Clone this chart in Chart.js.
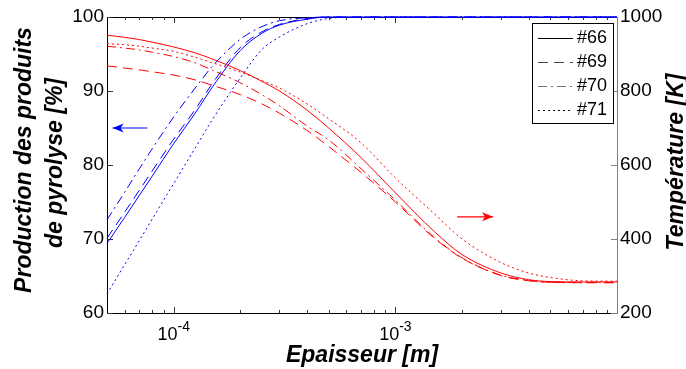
<!DOCTYPE html>
<html><head><meta charset="utf-8">
<script src="https://cdn.jsdelivr.net/npm/chart.js@4.4.0/dist/chart.umd.min.js"></script>
<style>html,body{margin:0;padding:0;background:#fff;overflow:hidden}#wrap{width:686px;height:369px;position:relative}</style>
</head><body><div id="wrap"><canvas id="c" width="686" height="369"></canvas></div>
<script>
// ---- data ----
const thickness = [5e-5, 6e-5, 7e-5, 8e-5, 1e-4, 1.25e-4, 1.5e-4, 2e-4, 2.5e-4, 3e-4, 4e-4, 5e-4, 7e-4, 1e-3, 1.5e-3, 2e-3, 3e-3, 4e-3, 5e-3, 7e-3, 1e-2];
// production of pyrolysis products [%] (left axis, blue)
const prod66 = [69.4, 72.9, 75.9, 78.5, 82.9, 87.0, 90.6, 95.5, 97.8, 98.9, 99.7, 100, 100, 100, 100, 100, 100, 100, 100, 100, 100];
const prod69 = [70.1, 73.6, 76.6, 79.2, 83.5, 87.5, 91.1, 95.9, 98.0, 99.0, 99.8, 100, 100, 100, 100, 100, 100, 100, 100, 100, 100];
const prod70 = [72.6, 76.3, 79.5, 82.2, 86.5, 90.4, 93.4, 97.0, 98.7, 99.5, 99.9, 100, 100, 100, 100, 100, 100, 100, 100, 100, 100];
const prod71 = [62.6, 66.5, 69.8, 72.7, 77.5, 82.3, 86.2, 91.8, 95.6, 97.3, 99.1, 99.8, 100, 100, 100, 100, 100, 100, 100, 100, 100];
// temperature [K] (right axis, red)
const temp66 = [951, 945, 939, 932, 919, 903, 886, 855, 826, 800, 748, 700, 620, 525, 420, 358, 308, 290, 285, 284, 284];
const temp69 = [868, 862, 857, 852, 843, 830, 815, 790, 765, 740, 693, 650, 580, 500, 402, 348, 301, 287, 283, 282, 282];
const temp70 = [921, 916, 911, 905, 893, 876, 856, 822, 790, 760, 705, 668, 590, 505, 404, 349, 302, 288, 283, 282, 282];
const temp71 = [928, 925, 921, 916, 907, 891, 876, 851, 828, 808, 765, 725, 660, 565, 468, 400, 336, 308, 296, 287, 286];
const seriesNames = ['#66', '#69', '#70', '#71'];
const xMajorTicks = [1e-4, 1e-3];
const xMajorExp = ['-4', '-3'];
const xMinorTicks = [6e-5, 7e-5, 8e-5, 9e-5, 2e-4, 3e-4, 4e-4, 5e-4, 6e-4, 7e-4, 8e-4, 9e-4, 2e-3, 3e-3, 4e-3, 5e-3, 6e-3, 7e-3, 8e-3, 9e-3];
const leftTicks = [60, 70, 80, 90, 100];
const rightTicks = [200, 400, 600, 800, 1000];
const blueArrow = {y: 85, from: 7.6e-5, to: 5.3e-5};
const redArrow = {y: 460, from: 1.9e-3, to: 2.76e-3};
const xTitle = 'Epaisseur [m]';
const yTitle = ['Production des produits', 'de pyrolyse [%]'];
const y2Title = 'Température [K]';

const FONT = "'Liberation Sans', Arial, sans-serif";
const dashes = [[], [10, 6], [9, 4, 2, 4], [2, 3]];
const legendColors = ['#000', '#444', '#777', '#000'];

function pts(vals) { return thickness.map((x, i) => ({x: x, y: vals[i]})); }
const prodSets = [prod66, prod69, prod70, prod71];
const tempSets = [temp66, temp69, temp70, temp71];
const datasets = [];
tempSets.forEach((v, i) => datasets.push({label: seriesNames[i] + ' T', data: pts(v), yAxisID: 'y2',
  borderColor: '#ff0000', borderWidth: 1, borderDash: dashes[i], pointRadius: 0, fill: false,
  cubicInterpolationMode: 'monotone', clip: 3}));
prodSets.forEach((v, i) => datasets.push({label: seriesNames[i] + ' P', data: pts(v), yAxisID: 'y',
  borderColor: '#0000ff', borderWidth: 1, borderDash: dashes[i], pointRadius: 0, fill: false,
  cubicInterpolationMode: 'monotone', clip: 3}));

function arrow(ctx, x1, y, x2, color) {
  ctx.save();
  ctx.strokeStyle = color; ctx.fillStyle = color; ctx.lineWidth = 1.2;
  ctx.beginPath(); ctx.moveTo(x1, y); ctx.lineTo(x2, y); ctx.stroke();
  const d = Math.sign(x2 - x1);
  ctx.beginPath();
  ctx.moveTo(x2, y);
  ctx.lineTo(x2 - d * 11, y - 4.5);
  ctx.lineTo(x2 - d * 8, y);
  ctx.lineTo(x2 - d * 11, y + 4.5);
  ctx.closePath(); ctx.fill();
  ctx.restore();
}

const framePlugin = {
  id: 'frame',
  beforeDatasetsDraw(chart) {
    const ctx = chart.ctx, a = chart.chartArea;
    const sx = chart.scales.x, sy = chart.scales.y, sy2 = chart.scales.y2;
    ctx.save();
    ctx.lineWidth = 1;
    ctx.strokeStyle = '#000';
    ctx.beginPath();
    ctx.moveTo(a.left + 0.5, a.top + 0.5); ctx.lineTo(a.right, a.top + 0.5);
    ctx.moveTo(a.left + 0.5, a.top); ctx.lineTo(a.left + 0.5, a.bottom + 0.5);
    ctx.lineTo(a.right, a.bottom + 0.5);
    ctx.stroke();
    ctx.strokeStyle = '#333';
    ctx.beginPath();
    xMajorTicks.forEach(v => { const x = Math.round(sx.getPixelForValue(v)) + 0.5;
      ctx.moveTo(x, a.bottom); ctx.lineTo(x, a.bottom - 6); ctx.moveTo(x, a.top); ctx.lineTo(x, a.top + 6); });
    xMinorTicks.forEach(v => { const x = Math.round(sx.getPixelForValue(v)) + 0.5;
      ctx.moveTo(x, a.bottom); ctx.lineTo(x, a.bottom - 3); ctx.moveTo(x, a.top); ctx.lineTo(x, a.top + 3); });
    leftTicks.forEach(v => { const y = Math.round(sy.getPixelForValue(v)) + 0.5;
      ctx.moveTo(a.left, y); ctx.lineTo(a.left + 6, y); });
    ctx.stroke();
    ctx.strokeStyle = '#808080';
    ctx.beginPath();
    ctx.moveTo(a.right + 0.5, a.top); ctx.lineTo(a.right + 0.5, a.bottom + 1);
    rightTicks.forEach(v => { const y = Math.round(sy2.getPixelForValue(v)) + 0.5;
      ctx.moveTo(a.right, y); ctx.lineTo(a.right - 6, y); });
    ctx.stroke();
    ctx.restore();
  },
  afterDatasetsDraw(chart) {
    const ctx = chart.ctx, a = chart.chartArea;
    const sx = chart.scales.x, sy = chart.scales.y, sy2 = chart.scales.y2;
    arrow(ctx, sx.getPixelForValue(blueArrow.from), sy.getPixelForValue(blueArrow.y), sx.getPixelForValue(blueArrow.to), '#0000ff');
    arrow(ctx, sx.getPixelForValue(redArrow.from), sy2.getPixelForValue(redArrow.y), sx.getPixelForValue(redArrow.to), '#ff0000');
    ctx.save();
    const L = 532, T = 23, R = 613, B = 123;
    ctx.fillStyle = '#fff'; ctx.fillRect(L, T, R - L, B - T);
    ctx.strokeStyle = '#000'; ctx.lineWidth = 1;
    ctx.strokeRect(L + 0.5, T + 0.5, R - L, B - T);
    ctx.font = '18px ' + FONT; ctx.textBaseline = 'middle'; ctx.textAlign = 'left';
    seriesNames.forEach((n, i) => {
      const y = T + 14.5 + i * 24;
      ctx.strokeStyle = legendColors[i]; ctx.setLineDash(dashes[i]);
      ctx.beginPath(); ctx.moveTo(538, Math.round(y) + 0.5); ctx.lineTo(573, Math.round(y) + 0.5); ctx.stroke();
      ctx.setLineDash([]);
      ctx.fillStyle = '#000'; ctx.fillText(n, 577, y + 1);
    });
    ctx.restore();
  },
  afterDraw(chart) {
    const ctx = chart.ctx, a = chart.chartArea, sx = chart.scales.x;
    ctx.save();
    ctx.fillStyle = '#000';
    ctx.textBaseline = 'alphabetic'; ctx.textAlign = 'left';
    xMajorTicks.forEach((v, i) => {
      const x = sx.getPixelForValue(v);
      ctx.font = '18px ' + FONT; const w1 = ctx.measureText('10').width;
      ctx.font = '14px ' + FONT; const w2 = ctx.measureText(xMajorExp[i]).width;
      const x0 = x - (w1 + w2) / 2;
      ctx.font = '18px ' + FONT; ctx.fillText('10', x0, 340);
      ctx.font = '14px ' + FONT; ctx.fillText(xMajorExp[i], x0 + w1, 331);
    });
    ctx.font = 'italic bold 23px ' + FONT;
    ctx.textAlign = 'center';
    ctx.fillText(xTitle, (a.left + a.right) / 2, 362);
    ctx.save(); ctx.translate(31, 160); ctx.rotate(-Math.PI / 2); ctx.fillText(yTitle[0], 0, 0); ctx.restore();
    ctx.save(); ctx.translate(62, 163); ctx.rotate(-Math.PI / 2); ctx.fillText(yTitle[1], 0, 0); ctx.restore();
    ctx.save(); ctx.translate(683, 162); ctx.rotate(-Math.PI / 2); ctx.fillText(y2Title, 0, 0); ctx.restore();
    ctx.restore();
  }
};

new Chart(document.getElementById('c'), {
  type: 'line',
  data: {datasets: datasets},
  options: {
    responsive: false, animation: false, devicePixelRatio: 1,
    layout: {padding: {top: 17, left: 0, right: 0, bottom: 0}},
    plugins: {legend: {display: false}, tooltip: {enabled: false}},
    scales: {
      x: {type: 'logarithmic', min: 5e-5, max: 1e-2,
        grid: {display: false, drawTicks: false}, border: {display: false},
        ticks: {display: false},
        afterBuildTicks: s => { s.ticks = xMajorTicks.map(v => ({value: v})); },
        afterFit: s => { s.height = 56; }},
      y: {position: 'left', min: 60, max: 100,
        grid: {display: false, drawTicks: false}, border: {display: false},
        ticks: {stepSize: 10, color: '#000', padding: 3, font: {size: 19, family: FONT}, callback: v => String(v)},
        afterBuildTicks: s => { s.ticks = leftTicks.map(v => ({value: v})); },
        afterFit: s => { s.width = 107; }},
      y2: {position: 'right', min: 200, max: 1000,
        grid: {display: false, drawTicks: false}, border: {display: false},
        ticks: {stepSize: 200, color: '#000', padding: 3, font: {size: 19, family: FONT}, callback: v => String(v)},
        afterBuildTicks: s => { s.ticks = rightTicks.map(v => ({value: v})); },
        afterFit: s => { s.width = 69; }}
    }
  },
  plugins: [framePlugin]
});
</script></body></html>
